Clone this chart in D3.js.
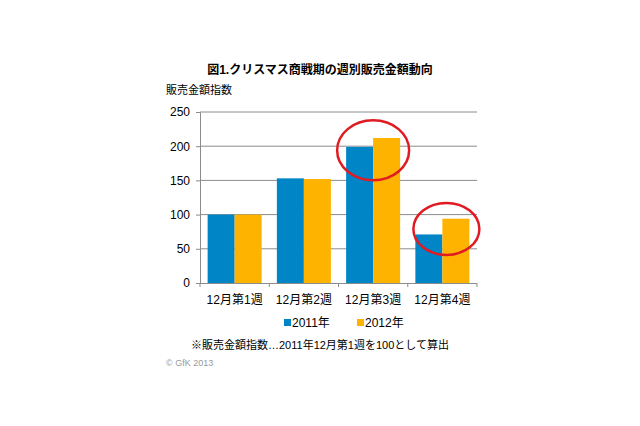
<!DOCTYPE html>
<html><head><meta charset="utf-8">
<script src="https://cdn.jsdelivr.net/npm/d3@7"></script>
<style>body{margin:0;background:#fff}svg{display:block}text{font-family:"Liberation Sans","Noto Sans CJK JP",sans-serif}</style>
</head><body><svg id="c" width="640" height="426"></svg>
<script>
const categories = ["12月第1週","12月第2週","12月第3週","12月第4週"];
const seriesNames = ["2011年","2012年"];
const values2011 = [100, 153, 199, 71];
const values2012 = [100, 152, 212, 94];
const yTicks = [0, 50, 100, 150, 200, 250];
const colors = ["#0085c7", "#fdb300"];

const svg = d3.select("#c");
const L = 200, R = 477, T = 112, B = 283;
const x = d3.scaleBand().domain(categories).range([L, R]).paddingInner(0.22).paddingOuter(0.11);
const xs = d3.scaleBand().domain(seriesNames).range([0, x.bandwidth()]);
const y = d3.scaleLinear().domain([0, 250]).range([B, T]);

// gridlines
svg.append("g").selectAll("line").data(yTicks.filter(d => d > 0)).join("line")
  .attr("x1", L).attr("x2", R).attr("y1", d => y(d)).attr("y2", d => y(d))
  .attr("stroke", "#8c8c8c").attr("stroke-width", 1);

// bars
const data = categories.map((c, i) => ({c, v: [values2011[i], values2012[i]]}));
const g = svg.append("g").selectAll("g").data(data).join("g")
  .attr("transform", d => `translate(${x(d.c)},0)`);
g.selectAll("rect").data(d => d.v.map((v, j) => ({s: seriesNames[j], v, j}))).join("rect")
  .attr("x", d => xs(d.s)).attr("width", xs.bandwidth())
  .attr("y", d => y(d.v)).attr("height", d => B - y(d.v))
  .attr("fill", d => colors[d.j]);

// y axis
const ya = svg.append("g").attr("transform", `translate(${L},0)`)
  .call(d3.axisLeft(y).tickValues(yTicks).tickSize(4).tickPadding(6));
ya.select(".domain").attr("stroke", "#8c8c8c");
ya.selectAll(".tick line").attr("stroke", "#8c8c8c");
ya.selectAll("text").attr("font-size", 12).attr("fill", "#000")
  .attr("font-family", "Liberation Sans, Arial, sans-serif");

// x axis
svg.append("line").attr("x1", L).attr("x2", R).attr("y1", B + 0.5).attr("y2", B + 0.5).attr("stroke", "#8c8c8c");
const bounds = [L].concat(categories.map(c => x(c) + x.bandwidth() + x.step() * x.paddingInner() / 2));
svg.append("g").selectAll("line").data(bounds.slice(0, 4).concat([R])).join("line")
  .attr("x1", d => d).attr("x2", d => d).attr("y1", B).attr("y2", B + 4).attr("stroke", "#8c8c8c");
svg.append("g").selectAll("text").data(categories).join("text")
  .attr("x", d => x(d) + x.bandwidth() / 2).attr("y", 304)
  .attr("text-anchor", "middle").attr("font-size", 12).attr("fill", "#000").text(d => d);

// title
svg.append("text").attr("x", 320).attr("y", 74).attr("text-anchor", "middle")
  .attr("font-size", 12).attr("font-weight", "bold").attr("fill", "#000")
  .text("図1.クリスマス商戦期の週別販売金額動向");
svg.append("text").attr("x", 166).attr("y", 94).attr("font-size", 11).attr("fill", "#000").text("販売金額指数");

// ellipses
svg.append("ellipse").attr("cx", x(categories[2]) + x.bandwidth() / 2).attr("cy", y(194))
  .attr("rx", 36).attr("ry", 30).attr("fill", "none").attr("stroke", "#e01b22").attr("stroke-width", 2.5);
svg.append("ellipse").attr("cx", x(categories[3]) + x.bandwidth() / 2 + 4).attr("cy", y(79))
  .attr("rx", 33).attr("ry", 26).attr("fill", "none").attr("stroke", "#e01b22").attr("stroke-width", 2.5);

// legend
const lg = svg.append("g").selectAll("g").data(seriesNames).join("g")
  .attr("transform", (d, i) => `translate(${284 + i * 73},327)`);
lg.append("rect").attr("x", 0).attr("y", -8).attr("width", 7).attr("height", 7).attr("fill", (d, i) => colors[i]);
lg.append("text").attr("x", 8).attr("y", 0).attr("font-size", 12).attr("fill", "#000").text(d => d);

// footnote
svg.append("text").attr("x", 320).attr("y", 349).attr("text-anchor", "middle")
  .attr("font-size", 11).attr("fill", "#000").text("※販売金額指数…2011年12月第1週を100として算出");
svg.append("text").attr("x", 166).attr("y", 366).attr("font-size", 9).attr("fill", "#999")
  .attr("font-family", "Liberation Sans, Arial, sans-serif").text("© GfK 2013");
</script></body></html>
